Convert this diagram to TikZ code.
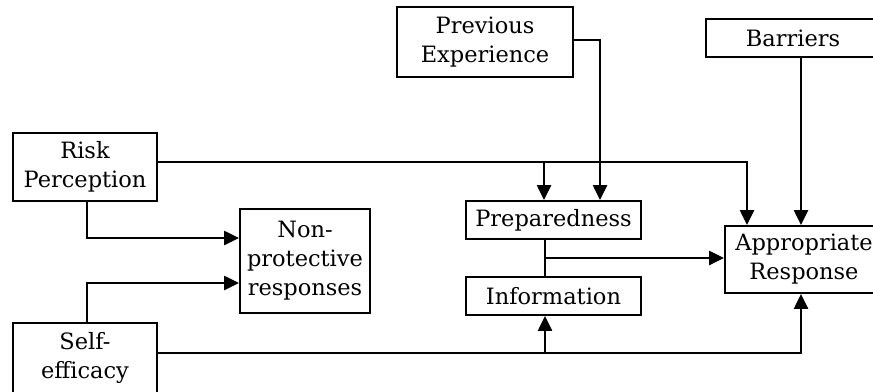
\documentclass[tikz,border=0pt]{standalone}
\usepackage{fontspec}
\setmainfont{DejaVu Serif}
\usetikzlibrary{arrows.meta}
\begin{document}
\begin{tikzpicture}[x=1pt,y=-1pt,
  box/.style={draw, line width=1.9pt, align=center, inner sep=0pt, font=\fontsize{22.5}{29}\selectfont},
  arr/.style={line width=2.4pt, -{Triangle[length=15pt,width=14pt]}},
  ln/.style={line width=1.4pt}]
\path[use as bounding box, clip] (0,0) rectangle (873,391);
\node[box, minimum width=144pt, minimum height=68pt] (rp) at (85,167) {Risk\\Perception};
\node[box, minimum width=130pt, minimum height=104pt] (np) at (305,261) {Non-\\protective\\responses};
\node[box, minimum width=144pt, minimum height=70pt] (se) at (85,358) {Self-\\efficacy};
\node[box, minimum width=176pt, minimum height=70pt] (pe) at (485,42) {Previous\\Experience};
\node[box, minimum width=175pt, minimum height=38pt] (prep) at (553.5,220) {Preparedness};
\node[box, minimum width=175pt, minimum height=38pt] (info) at (553.5,296) {Information};
\node[box, minimum width=158pt, minimum height=67pt] (ar) at (804,259.5) {Appropriate\\Response};
\node[box, minimum width=174pt, minimum height=38pt] (bar) at (793,38) {Barriers};
\coordinate (rj) at (747,162);
\coordinate (pj) at (544,162);
\coordinate (pv) at (600,40);
\coordinate (bx) at (801,0);
\coordinate (rd) at (87,238);
\coordinate (su) at (87,283);
\coordinate (sj) at (801,353);
\coordinate (ij) at (545,353);
\coordinate (pm) at (545,258);
\draw[arr] (rp.east |- rj) -- (rj) -- (rj |- ar.north);
\draw[arr] (pj) -- (pj |- prep.north);
\draw[arr] (pe.east |- pv) -- (pv) -- (pv |- prep.north);
\draw[arr] (bar.south -| bx) -- (ar.north -| bx);
\draw[arr] (rp.south -| rd) -- (rd) -- (np.west |- rd);
\draw[arr] (se.north -| su) -- (su) -- (np.west |- su);
\draw[arr] (se.east |- sj) -- (sj) -- (ar.south -| sj);
\draw[arr] (ij) -- (info.south -| ij);
\draw[ln] (prep.south -| pm) -- (info.north -| pm);
\draw[arr] (pm) -- (ar.west |- pm);
\end{tikzpicture}
\end{document}
